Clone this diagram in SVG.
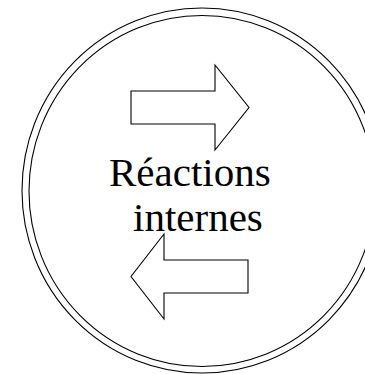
<svg xmlns="http://www.w3.org/2000/svg" width="365" height="374" viewBox="0 0 365 374">
<style>
.ln{fill:none;stroke:#000;stroke-width:1.1}
.ar{fill:#fff;stroke:#000;stroke-width:1.1;stroke-linejoin:miter}
.tx{font-family:"Liberation Serif","Times New Roman",serif;font-size:41px;fill:#000}
</style>
<rect width="365" height="374" fill="#fff"/>
<g id="circle">
<ellipse class="ln" cx="202" cy="190.5" rx="180" ry="182.5"/>
<ellipse class="ln" cx="202" cy="191" rx="173" ry="175.5"/>
</g>
<g id="arrow-right">
<polygon class="ar" points="131,91 215,91 215,65 249,107.5 215,150 215,124 131,124"/>
</g>
<g id="arrow-left">
<polygon class="ar" points="248,260 164,260 164,234 131,276.5 164,319 164,293 248,293"/>
</g>
<g id="label">
<text class="tx" x="109" y="186">Réactions</text>
<text class="tx" x="133" y="231">internes</text>
</g>
</svg>
